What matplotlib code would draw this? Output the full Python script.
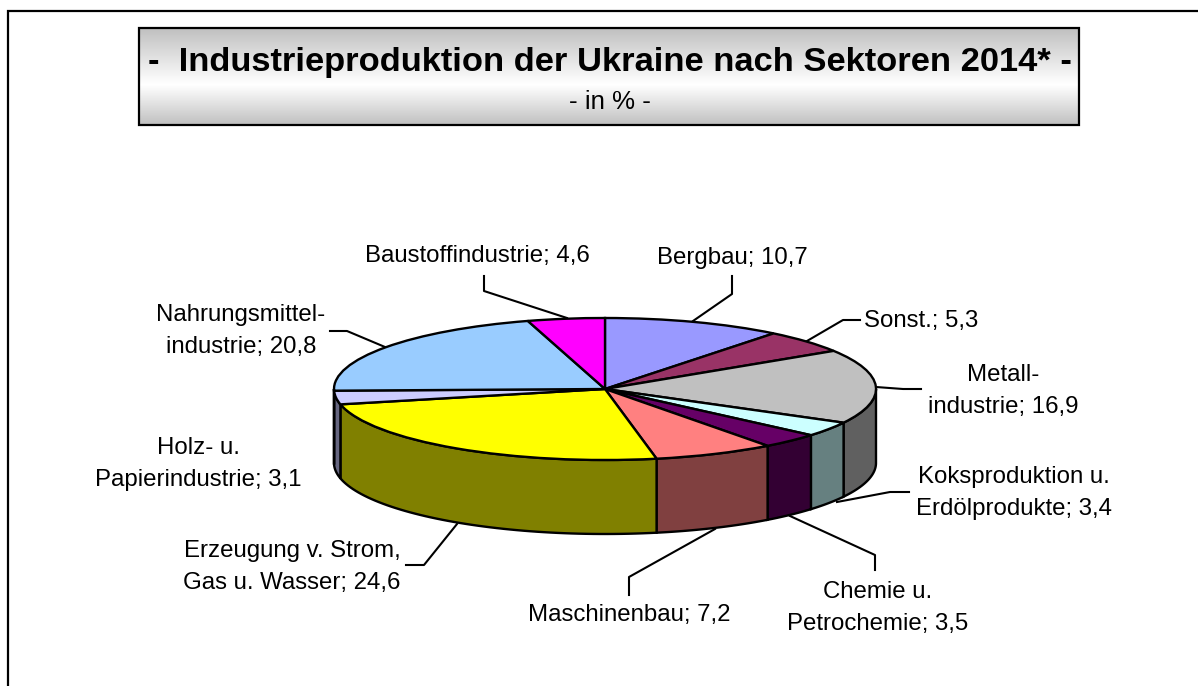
import numpy as np
import matplotlib
matplotlib.use("Agg")
from matplotlib import pyplot as plt
from matplotlib.colors import to_rgb
from matplotlib.patches import Polygon, Rectangle

plt.rcParams['font.family'] = ['Liberation Sans', 'DejaVu Sans']

W, H = 1198, 686

# sectors, clockwise from 12 o'clock
sectors = ["Bergbau", "Sonst.", "Metall-\nindustrie", "Koksproduktion u.\nErdölprodukte",
           "Chemie u.\nPetrochemie", "Maschinenbau", "Erzeugung v. Strom,\nGas u. Wasser",
           "Holz- u.\nPapierindustrie", "Nahrungsmittel-\nindustrie", "Baustoffindustrie"]
values = [10.7, 5.3, 16.9, 3.4, 3.5, 7.2, 24.6, 3.1, 20.8, 4.6]
colors = ["#9999FF", "#993366", "#C0C0C0", "#CCFFFF", "#660066",
          "#FF8080", "#FFFF00", "#CCCCFF", "#99CCFF", "#FF00FF"]

title = "-  Industrieproduktion der Ukraine nach Sektoren 2014* -"
subtitle = "- in % -"

# label centres in pixels
label_pos = [(732, 256), (921, 319), (1003, 389), (1014, 491), (878, 606),
             (629, 613), (292, 565), (198, 462), (241, 329), (477, 254)]
# leader lines in pixels (Holz has none)
leaders = [[(732, 276), (732, 294), (693, 321)],
           [(860, 320), (843, 320), (807, 341)],
           [(921, 389), (903, 389), (876, 387)],
           [(909, 492), (890, 492), (837, 502)],
           [(875, 570), (875, 555), (790, 516)],
           [(629, 595), (629, 577), (715, 529)],
           [(406, 565), (424, 565), (457, 524)],
           None,
           [(330, 331), (347, 331), (385, 347)],
           [(484, 276), (484, 291), (567, 318)]]

fig = plt.figure(figsize=(W / 100, H / 100), dpi=100)

# overlay in pixel coords for frame, title box, leaders, labels
ax = fig.add_axes([0, 0, 1, 1], zorder=1)
ax.set_xlim(0, W)
ax.set_ylim(H, 0)
ax.axis('off')

ax.plot([W + 5, 8, 8], [11, 11, H + 5], color='black', lw=1.6, solid_joinstyle='miter')

# title box with vertical grey-white-grey gradient
grad = np.concatenate([np.linspace(0.75, 1, 57), np.linspace(1, 0.75, 41)]).reshape(-1, 1)
ax.imshow(grad, cmap='gray', vmin=0, vmax=1, extent=(139, 1079, 125, 28), aspect='auto', zorder=1)
ax.set_xlim(0, W)
ax.set_ylim(H, 0)
ax.add_patch(Rectangle((139, 28), 940, 97, fill=False, ec='black', lw=1.6, zorder=2))
ax.text(610, 63, title, ha='center', va='center', fontsize=24.8, fontweight='bold', zorder=3)
ax.text(610, 102, subtitle, ha='center', va='center', fontsize=18.6, zorder=3)

for pts in leaders:
    if pts is None:
        continue
    ax.plot([p[0] for p in pts], [p[1] for p in pts], color='black', lw=1.5, zorder=2)

for name, val, (x, y) in zip(sectors, values, label_pos):
    txt = f"{name}; {str(val).replace('.', ',')}"
    ax.text(x, y + 2, txt, ha='center', va='center', fontsize=17.3, linespacing=1.6, zorder=3)

# pie: squashed axes covering the top ellipse, drawn above the leaders
cx, cy, rx, ry, depth = 605, 389, 271, 71, 74
pie_ax = fig.add_axes([(cx - rx) / W, 1 - (cy + ry) / H, 2 * rx / W, 2 * ry / H], zorder=2)
pie_ax.patch.set_alpha(0)
wedges, _ = pie_ax.pie(values, colors=colors, startangle=90, counterclock=False, radius=1,
                       wedgeprops=dict(edgecolor='black', linewidth=1.7, clip_on=False, zorder=3))
pie_ax.set_aspect('auto')
pie_ax.set_xlim(-1, 1)
pie_ax.set_ylim(-1, 1)
pie_ax.axis('off')

# side wall of the front half, half brightness of each sector
fracs = np.array(values) / np.sum(values)
edges = np.concatenate([[0], np.cumsum(fracs)]) * 360
d = depth / ry
for a, b, col in zip(edges[:-1], edges[1:], colors):
    a, b = max(a, 90), min(b, 270)
    if b <= a:
        continue
    t = np.radians(np.linspace(a, b, 60))
    xs, ys = np.sin(t), np.cos(t)
    verts = np.vstack([np.c_[xs, ys], np.c_[xs, ys - d][::-1]])
    pie_ax.add_patch(Polygon(verts, closed=True, fc=tuple(c * 0.5 for c in to_rgb(col)),
                             ec='black', lw=1.7, clip_on=False, zorder=2))

fig.savefig("out.png", dpi=100)
